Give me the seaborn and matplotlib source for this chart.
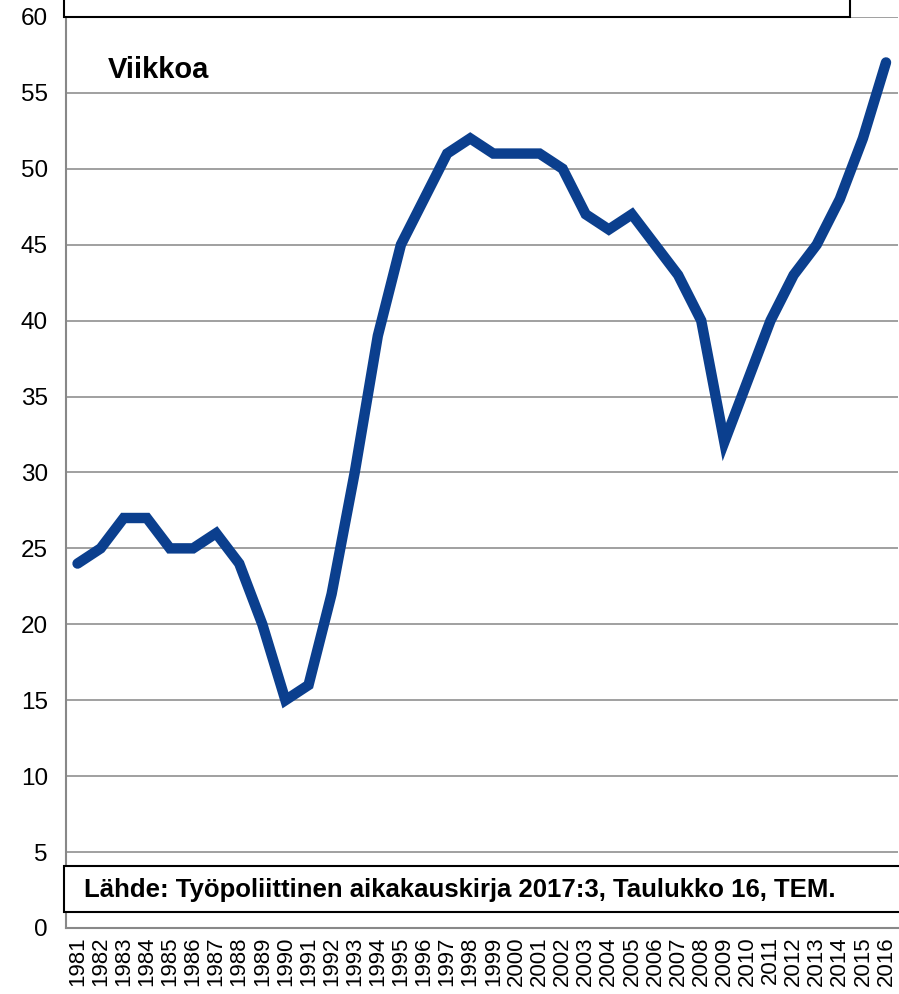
import seaborn as sns
import matplotlib.pyplot as plt
import pandas as pd
from matplotlib.patches import Rectangle

years = [str(y) for y in range(1981, 2017)]
weeks = [24, 25, 27, 27, 25, 25, 26, 24, 20, 15, 16, 22, 30, 39, 45, 48, 51, 52,
         51, 51, 51, 50, 47, 46, 47, 45, 43, 40, 32, 36, 40, 43, 45, 48, 52, 57]
yticks = list(range(0, 61, 5))

df = pd.DataFrame({"year": years, "weeks": weeks})
df["pos"] = range(len(df))

sns.set_style("white")
plt.rcParams["font.family"] = ["Liberation Sans", "DejaVu Sans"]
plt.rcParams["text.color"] = "black"
plt.rcParams["xtick.color"] = "black"
plt.rcParams["ytick.color"] = "black"

fig = plt.figure(figsize=(8.99, 9.94), dpi=100)
ax = fig.add_axes([0.0734, 0.0664, 0.925, 0.9166])

sns.lineplot(data=df, x="pos", y="weeks", ax=ax, color="#0b3f8e",
             linewidth=7.5, solid_joinstyle="miter", zorder=3)

ax.set_xlim(-0.5, len(years) - 0.5)
ax.set_ylim(0, 60)
ax.set_yticks(yticks)
ax.set_yticklabels([str(t) for t in yticks], fontsize=17.5)
ax.set_xticks(df["pos"])
ax.set_xticklabels(years, rotation=90, fontsize=16)
ax.set_xticks([p - 0.5 for p in range(len(years) + 1)], minor=True)
ax.tick_params(axis="x", which="major", length=0, pad=6)
ax.tick_params(axis="x", which="minor", length=7, color="#888888", width=1.2)
ax.tick_params(axis="y", length=8, color="#888888", width=1.2, pad=5)
ax.grid(axis="y", color="#999999", linewidth=1.3)
ax.set_xlabel("")
ax.set_ylabel("")
for s in ["top", "right"]:
    ax.spines[s].set_visible(False)
for s in ["left", "bottom"]:
    ax.spines[s].set_color("#888888")
    ax.spines[s].set_linewidth(1.5)

ax.text(0.05, 0.942, "Viikkoa", transform=ax.transAxes, fontsize=21,
        fontweight="bold", va="center", ha="left", zorder=5)

# framed boxes (top one is cut off by the image edge)
fig.patches.append(Rectangle((0.0712, 0.983), 0.874, 0.06, transform=fig.transFigure,
                             facecolor="white", edgecolor="black", linewidth=1.5, zorder=5))
fig.patches.append(Rectangle((0.0712, 0.0825), 0.95, 0.0463, transform=fig.transFigure,
                             facecolor="white", edgecolor="black", linewidth=1.5, zorder=5))
fig.text(0.0934, 0.1046, "Lähde: Työpoliittinen aikakauskirja 2017:3, Taulukko 16, TEM.",
         fontsize=18.5, fontweight="bold", va="center", ha="left", zorder=6)

fig.savefig("out.png", dpi=100)
